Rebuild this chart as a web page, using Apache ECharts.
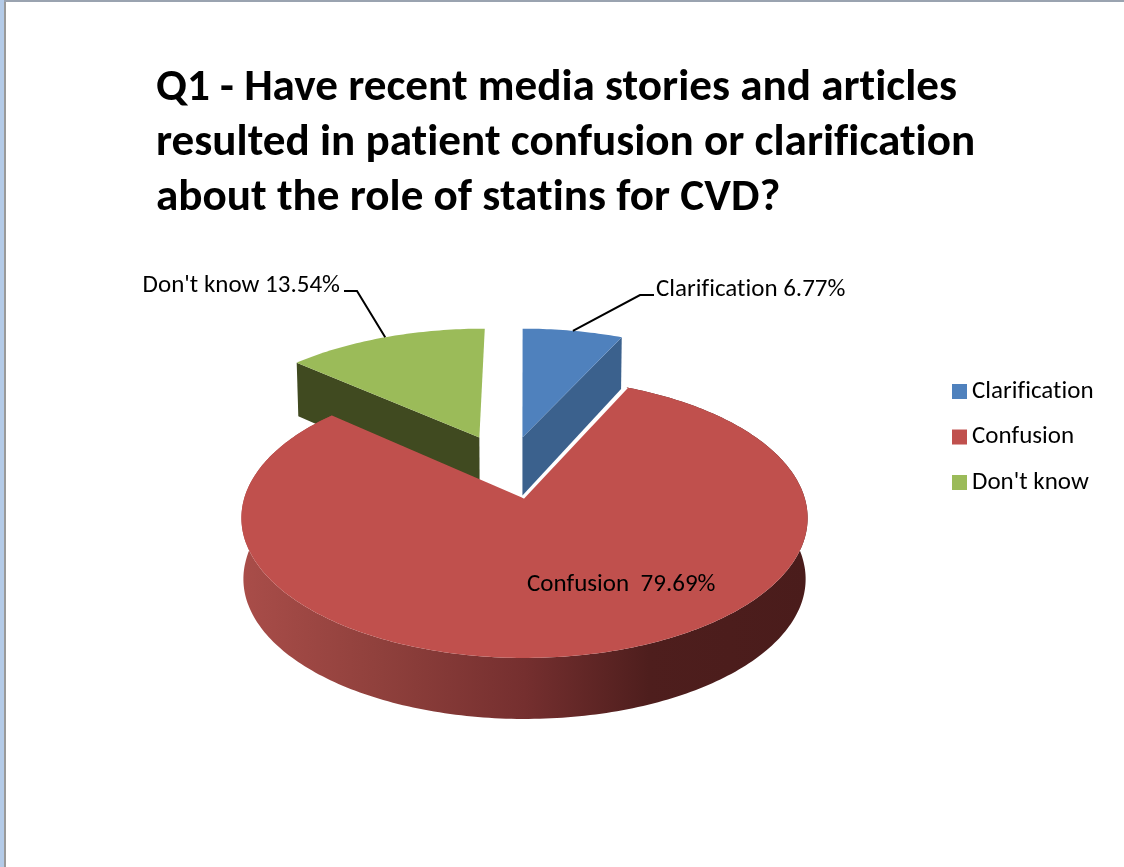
<!DOCTYPE html>
<html>
<head>
<meta charset="utf-8">
<style>html,body{margin:0;padding:0;background:#fff}#c{width:1124px;height:867px}</style>
<script src="https://cdn.jsdelivr.net/npm/echarts@6/dist/echarts.min.js"></script>
</head>
<body>
<div id="c"></div>
<script>
var titleLines = ["Q1 - Have recent media stories and articles", "resulted in patient confusion or clarification", "about the role of statins for CVD?"];
var categories = ["Clarification", "Confusion", "Don't know"];
var values = [6.77, 79.69, 13.54];
var labelTexts = ["Clarification 6.77%", "Confusion  79.69%", "Don't know 13.54%"];

var topColors = ["#4f81bd", "#c0504d", "#9bbb59"];
var innerSideColors = ["#3b618d", "#c0504d", "#404a20"];
// Slice explosion in the pie's own plane, and radius scale
var explodeU = [-0.006, 0.0018, -0.17];
var explodeV = [0.47, 0, 0.47];
var radiusScale = [1.03, 1, 1.03];
var apexShiftX = [0, -1.5, 0];
// Perspective projection of the pie disc
var view = { cx: 524, cy: 498, a: 280.2, b: 137.1, p: 1 / 7 };
var FONT = "Carlito, Lato, sans-serif";

// The reference text has no "ti" ligatures; a tiny letter spacing switches them off on canvas.
(function () {
  var proto = CanvasRenderingContext2D.prototype, fill = proto.fillText, measure = proto.measureText;
  proto.fillText = function () { this.letterSpacing = '0.01px'; return fill.apply(this, arguments); };
  proto.measureText = function () { this.letterSpacing = '0.01px'; return measure.apply(this, arguments); };
})();

var total = values.reduce(function (s, v) { return s + v; }, 0);
function startAngle(i) {
  var s = 0;
  for (var k = 0; k < i; k++) s += values[k];
  return s / total * 2 * Math.PI;
}
function project(i, theta) {
  var r = radiusScale[i];
  var u = explodeU[i] + r * Math.sin(theta), v = explodeV[i] + r * Math.cos(theta);
  var w = 1 + view.p * v;
  return [view.cx + view.a * u / w, view.cy - view.b * v / w, v];
}
function apex(i) {
  var u = explodeU[i], v = explodeV[i], w = 1 + view.p * v;
  return [view.cx + view.a * u / w + apexShiftX[i], view.cy - view.b * v / w, v];
}
function depth(v) { return v > 0 ? 61 - 6.5 * v : 61; }
function drop(pt) {
  return [view.cx + 0.5 + (pt[0] - view.cx - 0.5) * 0.993, pt[1] + depth(pt[2])];
}
function arc(i) {
  var a0 = startAngle(i), a1 = a0 + values[i] / total * 2 * Math.PI, pts = [];
  var n = Math.max(8, Math.ceil((a1 - a0) / (Math.PI / 180)));
  for (var k = 0; k <= n; k++) pts.push(project(i, a0 + (a1 - a0) * k / n));
  return pts;
}
function xy(p) { return [p[0], p[1]]; }

function sliceShapes(i) {
  var pts = arc(i), c = apex(i), kids = [];
  var top = [xy(c)].concat(pts.map(xy));
  if (i === 1) {
    var bottom = pts.map(drop).reverse();
    kids.push({ type: 'polygon', shape: { points: pts.map(xy).concat(bottom) },
      style: { fill: new echarts.graphic.LinearGradient(0, 0, 1, 0, [
        { offset: 0, color: '#a94d49' }, { offset: 0.25, color: '#8f403c' },
        { offset: 0.5, color: '#752f2f' }, { offset: 0.72, color: '#4e1e1d' },
        { offset: 1, color: '#4a1c1b' }]) } });
    kids.push({ type: 'polygon', shape: { points: top }, style: { fill: topColors[i] } });
    kids.push({ type: 'polyline', shape: { points: [xy(pts[0]), xy(c)] },
      style: { stroke: '#fff', lineWidth: 2.5, fill: null } });
  } else {
    var edge = i === 0 ? pts[pts.length - 1] : pts[0];
    kids.push({ type: 'polygon', shape: { points: [xy(c), xy(edge), drop(edge), drop(c)] },
      style: { fill: innerSideColors[i] } });
    kids.push({ type: 'polygon', shape: { points: top }, style: { fill: topColors[i] } });
  }
  return kids;
}

var labelSpecs = [
  { leaderElbow: [[640, 295], [654, 295]], x: 656, y: 290 },
  { x: 527, y: 585 },
  { leaderElbow: [[357, 291], [344, 291]], x: 340, y: 286, align: 'right' }
];
function labelShapes(i) {
  var spec = labelSpecs[i], kids = [];
  if (spec.leaderElbow) {
    var mid = startAngle(i) + values[i] / total * Math.PI;
    kids.push({ type: 'polyline', shape: { points: [xy(project(i, mid))].concat(spec.leaderElbow) },
      style: { stroke: '#000', lineWidth: 2, fill: null } });
  }
  kids.push({ type: 'text', x: spec.x, y: spec.y, style: {
    text: labelTexts[i], font: '25px ' + FONT, fill: '#000',
    align: spec.align || 'left', verticalAlign: 'middle' } });
  return kids;
}

var series = categories.map(function (name, i) {
  return {
    type: 'custom', name: name, coordinateSystem: 'none', z: i === 1 ? 3 : 2,
    itemStyle: { color: topColors[i] }, data: [values[i]], silent: true,
    renderItem: function () {
      return { type: 'group', children: sliceShapes(i).concat(labelShapes(i)) };
    }
  };
});

var chart = echarts.init(document.getElementById('c'), null, { renderer: 'canvas' });
chart.setOption({
  animation: false,
  backgroundColor: '#ffffff',
  title: {
    text: titleLines.join('\n'), left: 156, top: 61, itemGap: 0, padding: 0,
    textStyle: { fontFamily: FONT, fontSize: 45.15, fontWeight: 'bold', lineHeight: 55, color: '#000' }
  },
  legend: {
    data: categories, orient: 'vertical', left: 952, top: 379, itemWidth: 15, itemHeight: 15,
    itemGap: 20.5, icon: 'rect', padding: 0, selectedMode: false, inactiveColor: '#000',
    textStyle: { fontFamily: FONT, fontSize: 25, color: '#000', lineHeight: 23.5, padding: [0, 0, 0, 0] }
  },
  graphic: [
    { type: 'rect', shape: { x: 0, y: 0, width: 1124, height: 2 }, style: { fill: '#9aa3b0' }, z: 10 },
    { type: 'rect', shape: { x: 0, y: 0, width: 4, height: 867 }, style: { fill: '#b4cbe8' }, z: 10 },
    { type: 'rect', shape: { x: 4, y: 2, width: 2, height: 865 }, style: { fill: '#9a9a9a' }, z: 10 }
  ],
  series: series
});
</script>
</body>
</html>
